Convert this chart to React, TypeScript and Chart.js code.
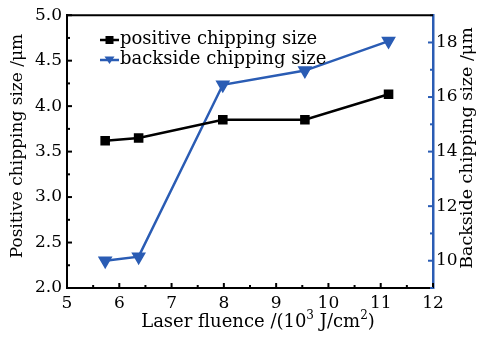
import React, { useEffect, useRef } from "react";
import { Chart, registerables } from "chart.js";

Chart.register(...registerables);

const fluence = [5.73, 6.37, 7.98, 9.55, 11.15];
const positiveSize = [3.62, 3.65, 3.85, 3.85, 4.13];
const backsideSize = [10.0, 10.15, 16.45, 16.97, 18.05];
const xTicks = [5, 6, 7, 8, 9, 10, 11, 12];
const leftTicks = [2.0, 2.5, 3.0, 3.5, 4.0, 4.5, 5.0];
const rightTicks = [10, 12, 14, 16, 18];
const legendLabels = ["positive chipping size", "backside chipping size"];

const BLUE = "#2a5cb4";
const FONT = "'DejaVu Serif', serif";
const FS = 17;

const decorPlugin = {
  id: "decor",
  afterDraw(chart: any) {
    const { ctx, chartArea: a, scales } = chart;
    const x = scales.x, y = scales.y, y1 = scales.y1;
    ctx.save();
    const tick = (x0: number, y0: number, x1: number, y1p: number, color: string) => {
      ctx.beginPath();
      ctx.strokeStyle = color;
      ctx.lineWidth = 2;
      ctx.moveTo(x0, y0);
      ctx.lineTo(x1, y1p);
      ctx.stroke();
    };
    for (let v = 5; v <= 12.001; v += 0.5) {
      const px = x.getPixelForValue(v);
      const len = Math.abs(v - Math.round(v)) < 0.01 ? 5 : 3;
      tick(px, a.bottom, px, a.bottom - len, "#000");
    }
    for (let v = 2; v <= 5.001; v += 0.25) {
      const py = y.getPixelForValue(v);
      const len = Math.abs(v * 2 - Math.round(v * 2)) < 0.01 ? 5 : 3;
      tick(a.left, py, a.left + len, py, "#000");
    }
    for (let v = 9; v <= 19; v += 1) {
      const py = y1.getPixelForValue(v);
      const len = v % 2 === 0 ? 5 : 3;
      tick(a.right, py, a.right - len, py, BLUE);
    }
    ctx.beginPath();
    ctx.strokeStyle = "#000";
    ctx.lineWidth = 2;
    ctx.moveTo(a.left, a.top);
    ctx.lineTo(a.right, a.top);
    ctx.stroke();

    // legend
    ctx.font = `18px ${FONT}`;
    ctx.textBaseline = "middle";
    ctx.textAlign = "left";
    const ds = chart.data.datasets;
    const rows = [40, 60];
    legendLabels.forEach((lab, i) => {
      const yy = rows[i];
      const col = ds[i].borderColor;
      ctx.beginPath();
      ctx.strokeStyle = col;
      ctx.lineWidth = 2.5;
      ctx.moveTo(100, yy);
      ctx.lineTo(119, yy);
      ctx.stroke();
      ctx.fillStyle = col;
      if (i === 0) {
        ctx.fillRect(105.5, yy - 4, 8, 8);
      } else {
        ctx.beginPath();
        ctx.moveTo(104.5, yy - 3.5);
        ctx.lineTo(114.5, yy - 3.5);
        ctx.lineTo(109.5, yy + 4);
        ctx.closePath();
        ctx.fill();
      }
      ctx.fillStyle = "#000";
      ctx.fillText(lab, 120, yy - 1);
    });

    const drawSeg = (segs: [string, number, number][], cx: number, cy: number, rot: number) => {
      ctx.save();
      ctx.translate(cx, cy);
      ctx.rotate(rot);
      let total = 0;
      segs.forEach(([t, s]) => {
        ctx.font = `${s}px ${FONT}`;
        total += ctx.measureText(t).width;
      });
      let px = -total / 2;
      ctx.textBaseline = "middle";
      ctx.textAlign = "left";
      ctx.fillStyle = "#000";
      segs.forEach(([t, s, dy]) => {
        ctx.font = `${s}px ${FONT}`;
        ctx.fillText(t, px, dy);
        px += ctx.measureText(t).width;
      });
      ctx.restore();
    };
    drawSeg(
      [
        ["Laser fluence /(10", 18, 0],
        ["3", 12, -6],
        [" J/cm", 18, 0],
        ["2", 12, -6],
        [")", 18, 0],
      ],
      (a.left + a.right) / 2 + 8,
      322,
      0
    );
    drawSeg([["Positive chipping size /μm", FS, 0]], 18, 146, -Math.PI / 2);
    drawSeg([["Backside chipping size /μm", 17.5, 0]], 467, 148, -Math.PI / 2);
    ctx.restore();
  },
};

export default function App() {
  const ref = useRef<HTMLCanvasElement>(null);
  useEffect(() => {
    const chart = new Chart(ref.current!, {
      type: "line",
      data: {
        datasets: [
          {
            label: legendLabels[0],
            data: fluence.map((f, i) => ({ x: f, y: positiveSize[i] })),
            borderColor: "#000",
            backgroundColor: "#000",
            borderWidth: 2.5,
            pointStyle: "rect",
            pointRadius: 5,
            yAxisID: "y",
          },
          {
            label: legendLabels[1],
            data: fluence.map((f, i) => ({ x: f, y: backsideSize[i] })),
            borderColor: BLUE,
            backgroundColor: BLUE,
            borderWidth: 2.5,
            pointStyle: "triangle",
            pointRotation: 180,
            pointRadius: 6,
            yAxisID: "y1",
          },
        ],
      },
      options: {
        animation: false,
        responsive: false,
        layout: { padding: { top: 15, right: 0, left: 0, bottom: 0 } },
        plugins: { legend: { display: false }, tooltip: { enabled: false } },
        scales: {
          x: {
            type: "linear",
            min: 5,
            max: 12,
            afterBuildTicks: (s: any) => {
              s.ticks = xTicks.map((v) => ({ value: v }));
            },
            afterFit: (s: any) => {
              s.height = 49;
            },
            grid: { display: false, drawTicks: false },
            border: { display: true, color: "#000", width: 2 },
            ticks: { color: "#000", font: { family: FONT, size: FS }, padding: 5, maxRotation: 0 },
          },
          y: {
            type: "linear",
            position: "left",
            min: 2,
            max: 5,
            afterBuildTicks: (s: any) => {
              s.ticks = leftTicks.map((v) => ({ value: v }));
            },
            afterFit: (s: any) => {
              s.width = 67;
            },
            grid: { display: false, drawTicks: false },
            border: { display: true, color: "#000", width: 2 },
            ticks: {
              color: "#000",
              font: { family: FONT, size: FS },
              padding: 5,
              callback: (v: any) => Number(v).toFixed(1),
            },
          },
          y1: {
            type: "linear",
            position: "right",
            min: 9,
            max: 19,
            afterBuildTicks: (s: any) => {
              s.ticks = rightTicks.map((v) => ({ value: v }));
            },
            afterFit: (s: any) => {
              s.width = 45;
            },
            grid: { display: false, drawTicks: false },
            border: { display: true, color: BLUE, width: 2.5 },
            ticks: { color: "#000", font: { family: FONT, size: FS }, padding: 3 },
          },
        },
      },
      plugins: [decorPlugin],
    } as any);
    return () => chart.destroy();
  }, []);
  return (
    <div style={{ position: "fixed", left: 0, top: 0, width: 478, height: 337, background: "#fff" }}>
      <canvas ref={ref} width={478} height={337} style={{ width: 478, height: 337 }} />
    </div>
  );
}
